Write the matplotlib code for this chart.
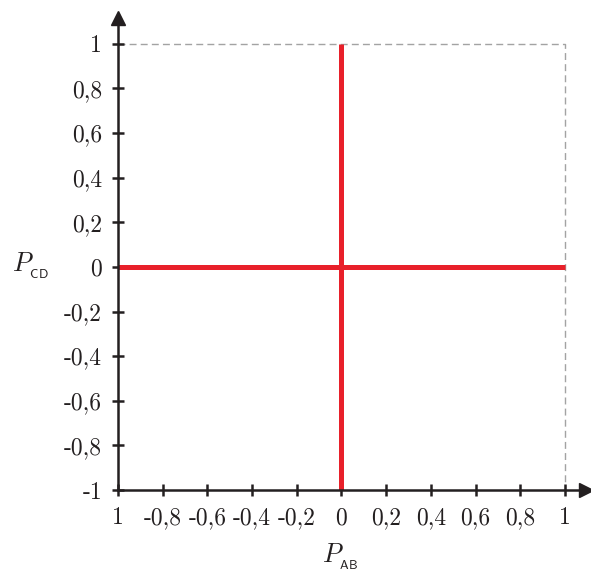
import numpy as np
import matplotlib
matplotlib.use("Agg")
import matplotlib.pyplot as plt

plt.rcParams['font.family'] = 'serif'
plt.rcParams['font.serif'] = ['cmr10', 'DejaVu Serif']
plt.rcParams['mathtext.fontset'] = 'cm'

# ticks and labels (leftmost x label is "1" in the original)
x_ticks = [-1, -0.8, -0.6, -0.4, -0.2, 0, 0.2, 0.4, 0.6, 0.8, 1]
x_labels = ['1', '-0,8', '-0,6', '-0,4', '-0,2', '0', '0,2', '0,4', '0,6', '0,8', '1']
y_ticks = [-1, -0.8, -0.6, -0.4, -0.2, 0, 0.2, 0.4, 0.6, 0.8, 1]
y_labels = ['-1', '-0,8', '-0,6', '-0,4', '-0,2', '0', '0,2', '0,4', '0,6', '0,8', '1']

# red cross: horizontal P_CD = 0 and vertical P_AB = 0
h_x = [-1, 1]
h_y = [0, 0]
v_x = [0, 0]
v_y = [-1, 1]

# dashed bounding lines
box_x = [-1, 1, 1]
box_y = [1, 1, -1]

dark = '#231f20'
red = '#e8202a'

fig = plt.figure(figsize=(5.91, 5.71), dpi=100)
ax = fig.add_axes([118 / 591, 81 / 571, 468 / 591, 472 / 571])
ax.set_xlim(-1, 1.094)
ax.set_ylim(-1, 1.116)

ax.plot(box_x, box_y, color='#a3a3a3', lw=1.0, ls=(0, (5, 3)), zorder=1)
ax.plot(h_x, h_y, color=red, lw=3.6, solid_capstyle='butt', zorder=3)
ax.plot(v_x, v_y, color=red, lw=3.6, solid_capstyle='butt', zorder=3)

for s in ['top', 'right']:
    ax.spines[s].set_visible(False)
for s in ['left', 'bottom']:
    ax.spines[s].set_linewidth(1.8)
    ax.spines[s].set_color(dark)
    ax.spines[s].set_zorder(4)

# arrow heads at axis ends
ax.plot(1, 0, marker='>', ms=10, color=dark, transform=ax.transAxes,
        clip_on=False, zorder=5)
ax.plot(0, 1, marker='^', ms=10, color=dark, transform=ax.transAxes,
        clip_on=False, zorder=5)

ax.set_xticks(x_ticks)
ax.set_xticklabels(x_labels)
ax.set_yticks(y_ticks)
ax.set_yticklabels(y_labels)
ax.tick_params(direction='inout', length=9, width=1.8, color=dark,
               labelsize=17, labelcolor=dark)
ax.tick_params(axis='x', pad=8)
ax.tick_params(axis='y', pad=7)

fig.text(30 / 591, 1 - 266 / 571, r'$P_{_{\mathsf{CD}}}$', fontsize=19, ha='center', va='center',
         color=dark)
fig.text(340 / 591, 1 - 557 / 571, r'$P_{_{\mathsf{AB}}}$', fontsize=19, ha='center', va='center',
         color=dark)

fig.savefig('out.png', dpi=100)
